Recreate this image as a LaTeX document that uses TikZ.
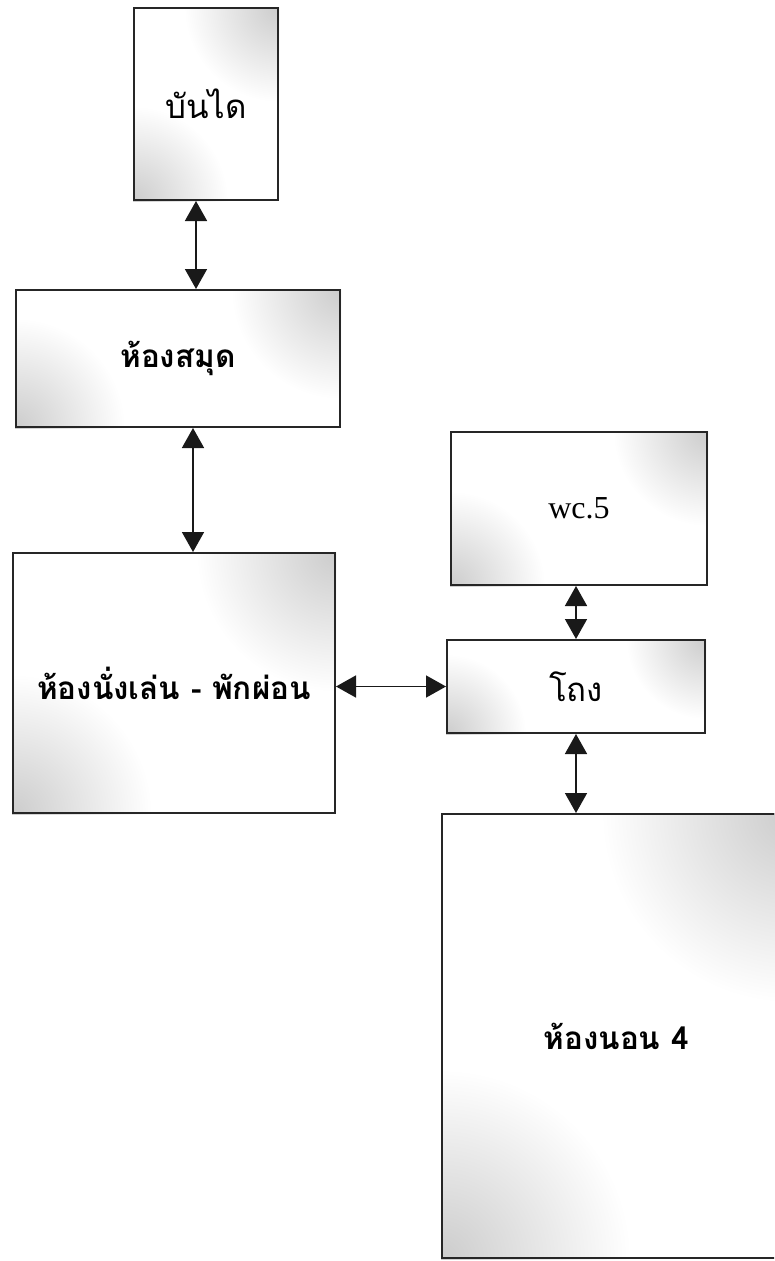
\documentclass[tikz,border=0pt]{standalone}
\usepackage{fontspec}
\setmainfont{Liberation Serif}
\newfontfamily\thaifont[Script=Thai]{Loma}
\usetikzlibrary{arrows.meta,backgrounds}
\tikzset{
  room/.style={draw=black!85, line width=2pt, rectangle, inner sep=0pt, align=center},
  thaireg/.style={font=\thaifont\fontsize{33}{40}\selectfont},
  thaibold/.style={font=\thaifont\bfseries\fontsize{31.5}{36}\selectfont},
  latinlbl/.style={font=\fontsize{32}{40}\selectfont},
  biarrow/.style={line width=1.6pt, draw=black!90,
    {Triangle[length=20pt,width=22pt]}-{Triangle[length=20pt,width=22pt]}}
}
\newcommand{\cornershade}[2]{%
  \begin{scope}
    \clip (#1.south west) rectangle (#1.north east);
    \shade[inner color=gray!40, outer color=white] (#1.north east) circle (#2);
    \shade[inner color=gray!40, outer color=white] (#1.south west) circle (#2);
  \end{scope}}
\begin{document}
\begin{tikzpicture}[x=1pt, y=-1pt]
\useasboundingbox (0,0) rectangle (774,1261);
\clip (0,0) rectangle (774,1261);

\node[room, thaireg, minimum width=144pt, minimum height=192pt] (stairs) at (206,104) {บันได};
\node[room, thaibold, minimum width=324pt, minimum height=137pt] (library) at (178,358.5) {ห้องสมุด};
\node[room, thaibold, minimum width=322pt, minimum height=260pt] (living) at (174,683) {ห้องนั่งเล่น - พักผ่อน};
\node[room, latinlbl, minimum width=256pt, minimum height=153pt] (wc) at (579,508.5) {wc.5};
\node[room, thaireg, minimum width=258pt, minimum height=93pt] (hall) at (576,686.5) {โถง};
\node[room, thaibold, minimum width=348pt, minimum height=444pt] (bedroom) at (616,1036) {ห้องนอน 4};

\begin{scope}[on background layer]
  \cornershade{stairs}{95pt}
  \cornershade{library}{110pt}
  \cornershade{living}{140pt}
  \cornershade{wc}{95pt}
  \cornershade{hall}{80pt}
  \cornershade{bedroom}{190pt}
\end{scope}

\draw[biarrow] ([xshift=-10pt]stairs.south) -- ([xshift=-10pt]stairs.south |- library.north);
\draw[biarrow] ([xshift=15pt]library.south) -- ([xshift=15pt]library.south |- living.north);
\draw[biarrow] (living.east |- hall.west) -- (hall.west);
\draw[biarrow] (wc.south -| hall.south) -- (hall.north);
\draw[biarrow] (hall.south) -- (hall.south |- bedroom.north);
\end{tikzpicture}
\end{document}
